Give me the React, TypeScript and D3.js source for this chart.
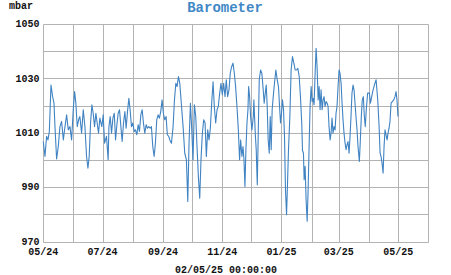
import React from "react";
import * as d3 from "d3";

// days since 2024-05-01 (UTC) and pressure in mbar
const dayOffsets: number[] = [
  0.0, 1.7, 3.4, 4.8, 6.2, 7.9, 9.6, 11.0, 12.0, 13.7, 15.4, 17.1, 18.8, 20.6, 22.3, 24.0, 25.7, 27.4, 29.1, 30.8,
  32.2, 33.5, 34.9, 36.3, 37.6, 39.4, 41.1, 42.8, 44.5, 45.9, 47.2, 48.6, 50.0, 51.3, 52.7, 54.1, 55.4, 56.8, 58.2, 60.2,
  61.6, 63.0, 65.0, 66.7, 67.5, 68.8, 70.2, 71.6, 73.0, 74.3, 75.7, 77.0, 78.4, 79.8, 81.1, 82.5, 83.9, 85.2, 86.6, 88.0,
  89.3, 90.7, 92.1, 93.5, 94.8, 96.2, 97.6, 98.9, 100.3, 101.7, 103.0, 104.4, 105.8, 107.1, 108.5, 109.9, 111.2, 112.6, 114.0, 115.3,
  116.7, 118.1, 119.4, 120.8, 122.2, 123.5, 124.9, 126.3, 127.6, 129.0, 130.1, 131.8, 133.5, 134.9, 136.3, 137.6, 139.0, 140.4, 141.7, 143.8,
  145.5, 147.2, 148.6, 149.9, 151.3, 152.7, 154.0, 155.4, 156.8, 158.1, 159.5, 160.9, 162.2, 163.6, 165.0, 166.4, 167.7, 169.1, 170.5, 171.8,
  173.2, 174.6, 175.9, 177.3, 178.7, 180.0, 181.4, 182.8, 184.1, 185.5, 186.9, 188.2, 189.6, 191.0, 192.3, 193.7, 195.1, 196.5, 197.8, 199.2,
  200.6, 201.9, 203.0, 204.3, 205.4, 206.4, 207.4, 208.4, 209.5, 210.5, 211.2, 212.2, 213.2, 214.6, 216.0, 216.6, 218.0, 219.0, 220.1, 221.1,
  222.1, 223.5, 224.8, 226.2, 227.2, 228.3, 229.3, 230.3, 231.3, 232.4, 233.4, 234.4, 235.4, 236.5, 237.8, 239.2, 240.6, 241.9, 243.0, 244.0,
  245.0, 246.0, 247.1, 248.1, 249.1, 250.2, 251.2, 252.2, 253.6, 254.9, 256.3, 257.7, 259.1, 260.4, 261.8, 263.2, 264.5, 265.9, 266.6, 267.6,
  268.3, 269.3, 270.3, 271.4, 272.4, 273.4, 274.4, 275.5, 276.5, 277.5, 278.5, 279.6, 280.6, 281.6, 282.7, 283.7, 284.7, 285.7, 286.8, 287.8,
  288.8, 289.8, 290.9, 291.9, 292.9, 293.9, 295.0, 296.0, 297.0, 298.0, 299.1, 300.1, 301.1, 302.1, 303.2, 304.2, 305.2, 306.3, 307.3, 308.3,
  309.3, 310.4, 311.4, 312.4, 313.4, 314.5, 315.5, 316.5, 317.5, 318.6, 319.6, 320.6, 321.6, 322.7, 323.7, 325.1, 326.1, 327.1, 328.1, 329.2,
  330.2, 331.2, 332.2, 333.6, 335.4, 336.5, 337.8, 339.2, 340.6, 342.3, 344.0, 345.4, 346.4, 347.4, 348.4, 349.5, 350.5, 351.5, 352.5, 353.6,
  354.6, 355.6, 356.6, 357.7, 359.0, 360.4, 361.8, 362.8, 363.8, 364.8,
];

const pressure: number[] = [
  1006.8, 1001.3, 1008.7, 1007.4, 1010.5, 1027.6, 1023.3, 1020.9, 1012.3, 1000.4, 1005.0, 1012.3, 1014.2, 1007.4, 1012.3, 1016.6, 1011.1, 1012.3, 1007.4, 1018.5,
  1025.2, 1020.9, 1012.3, 1014.8, 1016.0, 1009.9, 1018.5, 1012.3, 1001.3, 997.0, 1001.3, 1013.6, 1020.3, 1017.2, 1012.3, 1017.2, 1013.6, 1009.9, 1015.4, 1012.3,
  1016.6, 1006.2, 1008.7, 1000.1, 1012.3, 1016.0, 1009.9, 1015.4, 1017.2, 1007.4, 1013.0, 1017.2, 1018.5, 1012.3, 1006.8, 1013.6, 1017.8, 1011.7, 1017.8, 1022.7,
  1018.5, 1012.3, 1013.6, 1010.5, 1011.1, 1009.3, 1013.0, 1010.5, 1016.6, 1018.5, 1013.6, 1009.9, 1013.0, 1011.7, 1012.3, 1011.7, 1012.3, 1005.0, 1001.3, 1006.2,
  1014.8, 1016.6, 1015.4, 1017.8, 1022.1, 1017.2, 1014.8, 1016.0, 1009.3, 1008.7, 1007.4, 1006.2, 1012.3, 1022.1, 1028.2, 1027.0, 1030.7, 1028.2, 1022.1, 1012.3,
  1002.5, 1000.1, 984.8, 1006.2, 1020.9, 1011.1, 1000.1, 1020.3, 1016.0, 1005.0, 994.0, 986.0, 1000.1, 1009.9, 1014.8, 1013.6, 1001.3, 1011.1, 1007.4, 1011.7,
  1020.9, 1028.8, 1019.7, 1013.6, 1018.5, 1019.7, 1024.6, 1028.2, 1024.0, 1028.2, 1023.3, 1029.5, 1023.3, 1025.8, 1031.9, 1034.3, 1035.6, 1031.9, 1027.0, 1019.7,
  1011.1, 1000.1, 1007.4, 1001.3, 1005.0, 1000.1, 990.3, 1003.8, 1013.6, 1018.5, 1027.0, 1023.3, 1016.0, 1011.1, 1016.0, 1022.1, 1009.9, 1003.8, 990.9, 1009.9,
  1029.5, 1033.1, 1031.9, 1025.8, 1020.9, 1024.6, 1027.6, 1019.7, 1007.4, 1002.5, 1016.0, 1003.8, 1018.5, 1023.3, 1028.2, 1033.1, 1029.5, 1027.0, 1019.7, 1013.6,
  1017.2, 1022.1, 1018.5, 1008.7, 989.1, 979.9, 991.5, 1003.8, 1016.0, 1033.1, 1038.0, 1035.6, 1033.1, 1033.1, 1033.7, 1030.7, 1023.3, 1013.0, 1003.5, 1002.5,
  992.8, 997.7, 985.4, 977.5, 989.1, 1005.0, 1019.7, 1027.0, 1021.5, 1022.7, 1020.3, 1031.9, 1041.1, 1034.3, 1022.1, 1027.0, 1018.5, 1025.8, 1018.5, 1022.1,
  1023.3, 1019.7, 1021.5, 1020.9, 1019.7, 1012.3, 1007.4, 1009.9, 1015.4, 1009.9, 1012.3, 1011.1, 1017.2, 1019.7, 1027.0, 1033.1, 1031.9, 1028.2, 1020.9, 1014.8,
  1009.9, 1006.2, 1003.8, 1005.6, 1006.8, 1002.5, 1008.7, 1016.0, 1024.6, 1027.6, 1025.8, 1020.9, 1016.0, 1011.1, 1005.0, 999.5, 1007.4, 1016.0, 1022.1, 1023.3,
  1016.0, 1012.3, 1018.5, 1024.6, 1024.6, 1020.9, 1023.3, 1025.8, 1027.6, 1029.5, 1022.1, 1012.3, 1002.6, 1001.3, 998.9, 995.2, 1005.0, 1011.1, 1009.3, 1007.4,
  1009.9, 1011.7, 1014.2, 1020.9, 1021.5, 1022.1, 1023.3, 1025.2, 1022.1, 1016.0,
];

const yTickValues: number[] = [970, 990, 1010, 1030, 1050];
const yGridValues: number[] = [970, 980, 990, 1000, 1010, 1020, 1030, 1040, 1050];
const xTickDates: string[] = ["2024-05-01", "2024-07-01", "2024-09-01", "2024-11-01", "2025-01-01", "2025-03-01", "2025-05-01"];
const xTickLabels: string[] = ["05/24", "07/24", "09/24", "11/24", "01/25", "03/25", "05/25"];
const domainStart = "2024-05-01";
const domainEnd = "2025-06-01";
const titleText = "Barometer";
const unitText = "mbar";
const footerText = "02/05/25 00:00:00";

const W = 451;
const H = 275;
const M = { left: 43.3, right: 428.3, top: 24, bottom: 241.7 };
const FONT = "'Liberation Mono', 'Courier New', monospace";
const GRID = "#b3b3b3";
const LINE = "#4083c2";
const TITLE = "#3f88c6";

export default function App() {
  const start = new Date(domainStart + "T00:00:00Z");
  const end = new Date(domainEnd + "T00:00:00Z");
  const x = d3.scaleUtc().domain([start, end]).range([M.left, M.right]);
  const y = d3.scaleLinear().domain([970, 1050]).range([M.bottom, M.top]);

  const data = dayOffsets.map((d, i) => ({
    t: new Date(start.getTime() + d * 864e5),
    v: pressure[i],
  }));

  const line = d3
    .line<{ t: Date; v: number }>()
    .x((d) => x(d.t))
    .y((d) => y(d.v));

  const crisp = (v: number) => Math.round(v) + 0.5;
  const months = x.ticks(d3.utcMonth.every(1) as any);

  return (
    <svg
      width={W}
      height={H}
      style={{ position: "absolute", left: 0, top: 0, background: "#fff" }}
      fontFamily={FONT}
    >
      <rect x={0} y={0} width={W} height={H} fill="#fff" />
      {yGridValues.map((v) => (
        <line key={"h" + v} x1={crisp(M.left)} x2={crisp(M.right)} y1={crisp(y(v))} y2={crisp(y(v))} stroke={GRID} strokeWidth={1} />
      ))}
      {months.map((m) => (
        <line key={"v" + m.getTime()} x1={crisp(x(m))} x2={crisp(x(m))} y1={crisp(M.top)} y2={crisp(M.bottom)} stroke={GRID} strokeWidth={1} />
      ))}
      <path d={line(data) || ""} fill="none" stroke={LINE} strokeWidth={1.1} strokeLinejoin="round" />
      {yTickValues.map((v) => (
        <text key={"yl" + v} x={39.5} y={y(v)} dy="0.32em" textAnchor="end" fontSize={10} fontWeight="bold" fill="#111">
          {v}
        </text>
      ))}
      {xTickDates.map((d, i) => (
        <text key={"xl" + d} x={x(new Date(d + "T00:00:00Z"))} y={254.5} textAnchor="middle" fontSize={10} fontWeight="bold" fill="#111">
          {xTickLabels[i]}
        </text>
      ))}
      <text x={9} y={8.5} fontSize={10} fontWeight="bold" fill="#111">
        {unitText}
      </text>
      <text x={225} y={11.5} textAnchor="middle" fontSize={14} fontWeight="bold" fill={TITLE}>
        {titleText}
      </text>
      <text x={226} y={273} textAnchor="middle" fontSize={10} fontWeight="bold" fill="#111">
        {footerText}
      </text>
    </svg>
  );
}
